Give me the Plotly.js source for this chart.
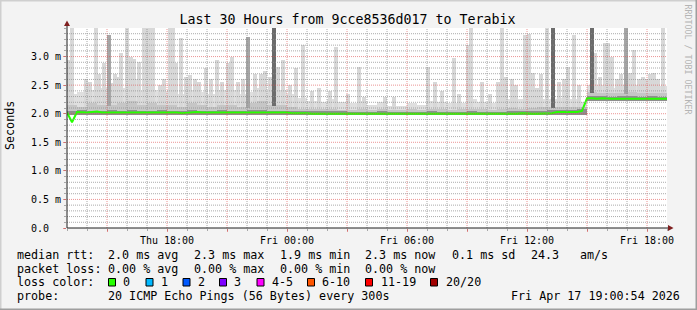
<!DOCTYPE html>
<html><head><meta charset="utf-8">
<script src="https://cdn.plot.ly/plotly-3.0.1.min.js"></script>
<style>html,body{margin:0;padding:0;background:#f3f3f3}#chart{width:697px;height:310px}</style>
</head><body><div id="chart"></div>
<script>
// ---------- data ----------
const startISO = '2026-04-16T13:00:00Z';   // Thu 13:00, 30 hours window
const medianRtt = [2.02,1.85,
 2.03,2.02,2.02,2.03,2.04,2.02,2.02,2.03,2.02,2.02,2.03,2.02,2.02,2.02,2.03,2.02,2.02,2.02,2.03,
 2.02,2.02,2.01,2.02,2.02,2.03,2.02,2.02,2.02,2.02,2.02,2.03,2.02,2.03,2.02,2.02,2.03,2.02,2.02,2.03,
 2.02,2.03,2.02,2.02,2.01,2.01,2.02,2.01,2.00,2.00,2.00,2.00,1.99,2.00,2.00,2.00,2.00,2.00,2.00,1.99,
 2.00,2.00,2.00,2.00,1.99,2.00,2.00,2.00,1.99,2.00,2.00,2.00,2.00,1.99,2.00,2.00,2.00,1.99,2.00,2.00,
 2.00,2.00,2.00,2.00,2.00,2.00,2.00,2.00,2.00,2.00,2.01,2.00,2.00,2.00,2.00,2.00,2.01,2.03,2.03,2.03,
 2.02,2.03,2.05,
 2.27,2.27,2.26,2.27,2.26,2.26,2.26,2.26,2.26,2.25,2.26,2.26,2.26,2.26,2.25,2.26,2.26];   // every 15 min
const smokeLo = [1.97,1.98,1.98,1.98,1.98,1.98,1.98,1.98,1.98,1.98,1.98,1.98,1.98,1.98,1.98,1.98,1.98,1.98,1.98,1.98,
 1.98,1.98,1.98,1.98,1.98,1.98,1.98,1.98,1.97,1.97,1.97,1.97,1.97,1.97,1.97,1.97,1.97,1.97,1.97,1.97,
 1.97,1.97,1.97,1.97,1.97,1.97,1.97,1.97,1.97,1.97,1.97,1.98,2.22,2.22,2.22,2.22,2.22,2.22,2.22,2.22]; // every 30 min
const darkTop = [2.05,2.06,2.05,2.05,2.06,2.05,2.06,2.05,2.05,2.06,2.05,2.05,2.06,2.05,2.05,2.06,2.05,2.05,2.06,2.07,
 2.05,2.05,2.05,2.04,2.04,2.04,2.04,2.04,2.03,2.03,2.03,2.04,2.03,2.03,2.03,2.03,2.04,2.03,2.03,2.03,
 2.04,2.03,2.03,2.03,2.04,2.04,2.04,2.05,2.06,2.07,2.07,2.08,2.31,2.31,2.30,2.31,2.31,2.30,2.31,2.30];
const midTop = [2.15,2.12,2.18,2.15,2.15,2.18,2.22,2.15,2.18,2.15,2.15,2.12,2.18,2.15,2.12,2.15,2.15,2.12,2.18,2.22,
 2.15,2.15,2.12,2.08,2.08,2.08,2.08,2.07,2.07,2.08,2.07,2.08,2.07,2.07,2.08,2.07,2.08,2.08,2.07,2.08,
 2.08,2.08,2.07,2.08,2.10,2.08,2.10,2.12,2.12,2.12,2.12,2.12,2.38,2.37,2.36,2.37,2.38,2.36,2.37,2.37];
const hazeTop = [2.35,2.38,2.42,2.45,2.40,2.45,2.60,2.40,2.42,2.38,2.42,2.35,2.42,2.38,2.35,2.42,2.42,2.35,2.38,2.45,
 2.38,2.42,2.35,2.28,2.22,2.20,2.25,2.20,2.18,2.22,2.16,2.20,2.14,2.14,2.18,2.16,2.22,2.20,2.18,2.18,
 2.25,2.20,2.18,2.28,2.25,2.25,2.25,2.25,2.25,2.28,2.25,2.20,2.50,2.50,2.45,2.50,2.50,2.45,2.50,2.48];
const lightSpikeTime = ['2026-04-16 13:00','2026-04-16 13:09','2026-04-16 13:51','2026-04-16 14:03','2026-04-16 14:21',
 '2026-04-16 14:30','2026-04-16 14:45','2026-04-16 15:09','2026-04-16 15:18','2026-04-16 15:24','2026-04-16 15:36',
 '2026-04-16 15:54','2026-04-16 16:06','2026-04-16 16:15','2026-04-16 16:30','2026-04-16 16:45','2026-04-16 16:54',
 '2026-04-16 17:03','2026-04-16 17:12','2026-04-16 17:33','2026-04-16 17:45','2026-04-16 18:03','2026-04-16 18:12',
 '2026-04-16 18:21','2026-04-16 18:36','2026-04-16 18:51','2026-04-16 19:03','2026-04-16 19:18','2026-04-16 19:30',
 '2026-04-16 19:51','2026-04-16 20:06','2026-04-16 20:24','2026-04-16 20:39','2026-04-16 20:57','2026-04-16 21:09',
 '2026-04-16 21:27','2026-04-16 21:42','2026-04-16 22:18','2026-04-16 22:36','2026-04-16 22:48','2026-04-16 23:03',
 '2026-04-16 23:27','2026-04-16 23:42','2026-04-17 00:03','2026-04-17 00:21','2026-04-17 00:42','2026-04-17 01:09',
 '2026-04-17 01:30','2026-04-17 02:03','2026-04-17 02:21','2026-04-17 02:57','2026-04-17 03:30','2026-04-17 03:45',
 '2026-04-17 04:48','2026-04-17 05:15','2026-04-17 06:57','2026-04-17 07:18','2026-04-17 07:39','2026-04-17 08:15',
 '2026-04-17 08:30','2026-04-17 08:57','2026-04-17 09:06','2026-04-17 09:39','2026-04-17 10:03','2026-04-17 10:27',
 '2026-04-17 10:39','2026-04-17 10:51','2026-04-17 11:09','2026-04-17 11:21','2026-04-17 11:48','2026-04-17 12:00',
 '2026-04-17 12:12','2026-04-17 12:24','2026-04-17 12:36','2026-04-17 12:54','2026-04-17 13:30','2026-04-17 13:45',
 '2026-04-17 13:57','2026-04-17 14:15','2026-04-17 14:30','2026-04-17 15:18','2026-04-17 15:33','2026-04-17 15:48',
 '2026-04-17 15:57','2026-04-17 16:09','2026-04-17 16:24','2026-04-17 16:36','2026-04-17 17:03','2026-04-17 17:15',
 '2026-04-17 17:30','2026-04-17 17:42','2026-04-17 17:54','2026-04-17 18:03','2026-04-17 18:15','2026-04-17 18:27',
 '2026-04-17 18:42'];
const lightSpikeTop = [2.94,3.6,2.6,2.55,3.6,
 2.7,2.89,2.54,2.7,2.64,3.06,
 3.6,3.0,2.95,2.9,3.6,3.6,
 3.6,3.6,2.5,2.6,3.6,3.6,
 2.89,3.32,2.65,2.68,2.6,2.55,
 2.8,2.6,2.94,2.55,2.89,3.0,
 2.55,2.6,2.7,2.7,2.75,2.65,
 2.82,2.94,2.5,2.8,3.2,2.4,
 2.45,2.4,3.17,2.35,2.82,2.3,
 2.3,2.3,2.82,2.55,2.4,2.97,
 2.35,3.2,3.6,2.55,2.35,2.55,
 3.6,2.64,2.6,2.5,3.38,3.4,
 2.72,2.45,2.7,3.6,2.55,2.6,
 2.82,3.38,2.5,3.06,2.65,3.24,
 3.24,3.0,2.6,2.7,2.72,3.12,
 2.6,2.65,2.6,2.7,2.72,2.6,
 3.6];
const midSpikeTime = ['2026-04-16 15:00','2026-04-16 21:57','2026-04-17 16:51'];
const midSpikeTop  = [3.38,3.35,3.6];
const darkSpikeTime = ['2026-04-16 23:15','2026-04-17 13:12','2026-04-17 15:09'];
const darkSpikeTop  = [3.6,3.6,3.6];
const xTickText = ['','Thu 18:00','','Fri 00:00','','Fri 06:00','','Fri 12:00','','Fri 18:00'];
const yTickVals = [0,0.5,1.0,1.5,2.0,2.5,3.0];
const yTickText = ['0.0\u00a0\u00a0','0.5 m','1.0 m','1.5 m','2.0 m','2.5 m','3.0 m'];
const titleText = 'Last 30 Hours from 9cce8536d017 to Terabix';
const rowRtt  = ['median rtt:','2.0 ms avg','2.3 ms max','1.9 ms min','2.3 ms now','0.1 ms sd','24.3','am/s'];
const rowLoss = ['packet loss:','0.00 % avg','0.00 % max','0.00 % min','0.00 % now'];
const lossLabels = ['0','1','2','3','4-5','6-10','11-19','20/20'];
const lossColors = ['#26ff00','#00b8ff','#0059ff','#7e00ff','#ff00ff','#ff5500','#ff0000','#a10000'];
const probeText = ['probe:','20 ICMP Echo Pings (56 Bytes) every 300s','Fri Apr 17 19:00:54 2026'];

// ---------- helpers ----------
const t0 = Date.parse(startISO);
const stamp = m => new Date(t0 + m*60000).toISOString().slice(0,16).replace('T',' ');
const t15 = medianRtt.map((_,i)=>stamp(i*15));
const t30 = hazeTop.map((_,j)=>stamp(j*30));
const minOf = s => (Date.parse(s.replace(' ','T')+':00Z') - t0)/60000;
const binBase = s => midTop[Math.min(59, Math.floor(minOf(s)/30))] - 0.02;

const MONO = 'DejaVu Sans Mono, monospace';
const W = 697, L = 67, PW = 600, T = 28, PH = 200;
const px = x => (x - L)/PW;
const py = y => (T + PH - y)/PH;

function band(top, base, color){
  return {type:'bar', x:t30, base:base, y:top.map((v,i)=>v-base[i]), width:1800000, offset:0,
    marker:{color:color, line:{width:0}}, hoverinfo:'skip', showlegend:false};
}
function spikes(times, tops, color){
  const b = times.map(binBase);
  return {type:'bar', x:times, base:b, y:tops.map((v,i)=>v-b[i]), width:720000, offset:0,
    marker:{color:color, line:{width:0}}, hoverinfo:'skip', showlegend:false};
}

const traces = [
  band(hazeTop, smokeLo, '#dfdfdf'),
  spikes(lightSpikeTime, lightSpikeTop, '#d8d8d8'),
  band(midTop, smokeLo, '#c6c6c6'),
  spikes(midSpikeTime, midSpikeTop, '#a6a6a6'),
  band(darkTop, smokeLo, '#8e8e8e'),
  spikes(darkSpikeTime, darkSpikeTop, '#6c6c6c'),
  {type:'scatter', mode:'lines', x:t15, y:medianRtt, line:{color:lossColors[0], width:2},
   hoverinfo:'skip', showlegend:false}
];

// grid (rrdtool draws it above the graph)
const shapes = [];
const GRID = 'rgba(143,143,143,0.75)', MGRID = 'rgba(222,79,79,0.6)';
for (let h=1; h<30; h++){
  shapes.push({type:'line', layer:'above', xref:'x', yref:'paper', x0:stamp(h*60), x1:stamp(h*60), y0:0, y1:1,
    line:{color:(h-2)%3===0?MGRID:GRID, width:1, dash:'1px,1px'}});
}
for (let k=1; k<35; k++){
  const v = k/10;
  shapes.push({type:'line', layer:'above', xref:'paper', yref:'y', x0:0, x1:1, y0:v, y1:v,
    line:{color:k%5===0?MGRID:GRID, width:1, dash:'1px,1px'}});
}
// axes + arrows
const AX = '#1f1f1f', ARROW = '#7f1f1f';
shapes.push({type:'line', layer:'above', xref:'paper', yref:'paper', x0:px(67), x1:px(668), y0:0, y1:0, line:{color:AX, width:1}});
shapes.push({type:'line', layer:'above', xref:'paper', yref:'paper', x0:0, x1:0, y0:0, y1:py(26), line:{color:AX, width:1}});
shapes.push({type:'path', layer:'above', xref:'paper', yref:'paper',
  path:`M ${px(64)} ${py(26)} L ${px(70)} ${py(26)} L ${px(67)} ${py(20.5)} Z`, fillcolor:ARROW, line:{width:0}});
shapes.push({type:'path', layer:'above', xref:'paper', yref:'paper',
  path:`M ${px(668)} ${py(225)} L ${px(668)} ${py(231)} L ${px(673.5)} ${py(228)} Z`, fillcolor:ARROW, line:{width:0}});
// frame (shade A top/left, shade B bottom/right)
shapes.push({type:'line', xref:'paper', yref:'paper', x0:px(0), x1:px(697), y0:py(0.75), y1:py(0.75), line:{color:'#cfcfcf', width:1.5}});
shapes.push({type:'line', xref:'paper', yref:'paper', x0:px(0.75), x1:px(0.75), y0:py(0), y1:py(310), line:{color:'#cfcfcf', width:1.5}});
shapes.push({type:'line', xref:'paper', yref:'paper', x0:px(0), x1:px(697), y0:py(309.25), y1:py(309.25), line:{color:'#9e9e9e', width:1.5}});
shapes.push({type:'line', xref:'paper', yref:'paper', x0:px(696.25), x1:px(696.25), y0:py(0), y1:py(310), line:{color:'#9e9e9e', width:1.5}});

// legend text
const ann = [];
const F = {family:MONO, size:11.7, color:'#000'};
function txt(s, x, y, extra){
  ann.push(Object.assign({text:s, xref:'paper', yref:'paper', x:px(x), y:py(y), xanchor:'left', yanchor:'middle',
    showarrow:false, font:F, borderpad:0}, extra||{}));
}
const r1x = [16,107,193,279,364,450.5,529.5,578.5];
rowRtt.forEach((s,i)=>txt(s, r1x[i], 255));
rowLoss.forEach((s,i)=>txt(s, r1x[i], 268.5));
txt('loss color:', 16, 282);
const sqX = [108.5,146,183,219.5,257,307.5,365.5,430.5];
const lbX = [122,159.5,196.5,233,270.5,321,379.5,444.5];
lossLabels.forEach((s,i)=>{
  shapes.push({type:'rect', xref:'paper', yref:'paper', x0:px(sqX[i]), x1:px(sqX[i]+7), y0:py(278.5), y1:py(286),
    fillcolor:lossColors[i], line:{color:'#000', width:1}});
  txt(s, lbX[i], 282);
});
txt(probeText[0], 16, 296);
txt(probeText[1], 107, 296);
ann.push({text:probeText[2], xref:'paper', yref:'paper', x:px(681), y:py(296), xanchor:'right', yanchor:'middle',
  showarrow:false, font:F, borderpad:0});
ann.push({text:'Seconds', xref:'paper', yref:'paper', x:px(10), y:py(126), xanchor:'center', yanchor:'middle',
  textangle:-90, showarrow:false, font:F});
ann.push({text:'RRDTOOL / TOBI OETIKER', xref:'paper', yref:'paper', x:px(687.5), y:py(59), xanchor:'center', yanchor:'middle',
  textangle:90, showarrow:false, font:{family:MONO, size:8.3, color:'#b4b4b4'}});

const xTickVals = xTickText.map((_,i)=>stamp(120 + i*180));

const layout = {
  width:W, height:310, margin:{l:L, r:W-L-PW, t:T, b:310-T-PH, pad:0},
  paper_bgcolor:'#f3f3f3', plot_bgcolor:'#ffffff',
  title:{text:titleText, font:{family:MONO, size:13.3, color:'#000'}, xref:'container', yref:'container',
    x:347.5/W, y:1-19/310, xanchor:'center', yanchor:'middle'},
  barmode:'overlay', bargap:0, showlegend:false,
  xaxis:{type:'date', range:[stamp(0), stamp(1800)], tickmode:'array', tickvals:xTickVals, ticktext:xTickText,
    showgrid:false, zeroline:false, showline:false, ticks:'outside', ticklen:3, tickcolor:MGRID,
    tickfont:{family:MONO, size:10, color:'#000'},
    minor:{dtick:3600000, tick0:stamp(0), ticks:'outside', ticklen:2, tickcolor:GRID, showgrid:false},
    fixedrange:true},
  yaxis:{range:[0,3.5], tickmode:'array', tickvals:yTickVals, ticktext:yTickText, showgrid:false, zeroline:false,
    showline:false, ticks:'outside', ticklen:3, tickcolor:MGRID, tickfont:{family:MONO, size:10, color:'#000'},
    minor:{dtick:0.1, tick0:0, ticks:'outside', ticklen:2, tickcolor:GRID, showgrid:false}, fixedrange:true},
  shapes:shapes, annotations:ann
};
Plotly.newPlot('chart', traces, layout, {displayModeBar:false, staticPlot:true});
</script></body></html>
